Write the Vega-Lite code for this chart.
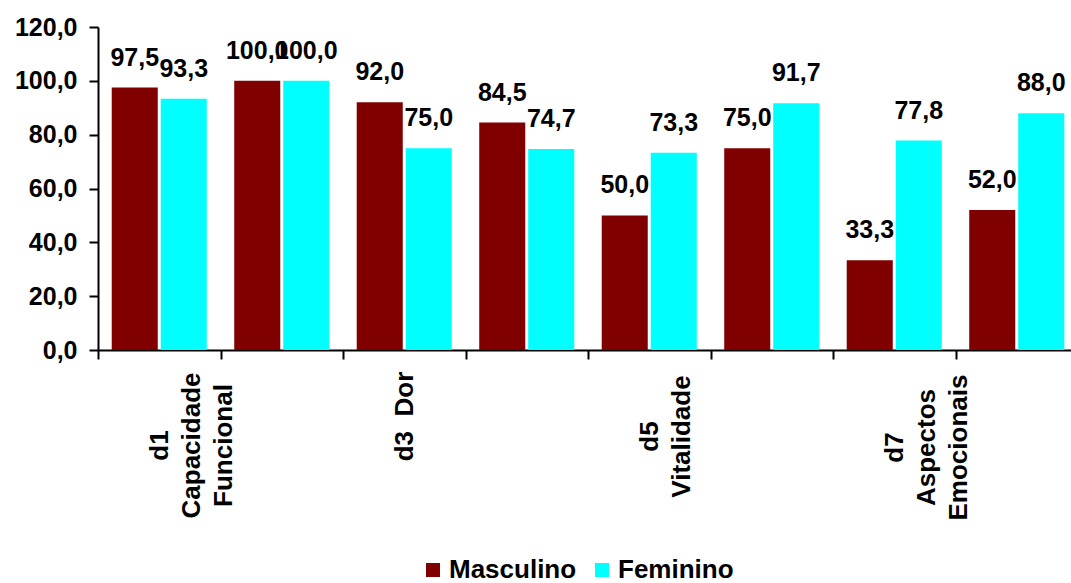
{
  "$schema": "https://vega.github.io/schema/vega-lite/v6.json",
  "autosize": "none",
  "width": 973,
  "height": 323,
  "padding": {"left": 98, "top": 27, "right": 0, "bottom": 233},
  "config": {
    "font": "Liberation Sans",
    "view": {"stroke": null},
    "locale": {"number": {"decimal": ",", "thousands": ".", "grouping": [3], "currency": ["", ""]}}
  },
  "data": {
    "values": [
      {"dominio": "d1 Capacidade Funcional", "sexo": "Masculino", "valor": 97.5},
      {"dominio": "d1 Capacidade Funcional", "sexo": "Feminino", "valor": 93.3},
      {"dominio": "d2 Aspectos Físicos", "sexo": "Masculino", "valor": 100.0},
      {"dominio": "d2 Aspectos Físicos", "sexo": "Feminino", "valor": 100.0},
      {"dominio": "d3 Dor", "sexo": "Masculino", "valor": 92.0},
      {"dominio": "d3 Dor", "sexo": "Feminino", "valor": 75.0},
      {"dominio": "d4 Estado Geral de Saúde", "sexo": "Masculino", "valor": 84.5},
      {"dominio": "d4 Estado Geral de Saúde", "sexo": "Feminino", "valor": 74.7},
      {"dominio": "d5 Vitalidade", "sexo": "Masculino", "valor": 50.0},
      {"dominio": "d5 Vitalidade", "sexo": "Feminino", "valor": 73.3},
      {"dominio": "d6 Aspectos Sociais", "sexo": "Masculino", "valor": 75.0},
      {"dominio": "d6 Aspectos Sociais", "sexo": "Feminino", "valor": 91.7},
      {"dominio": "d7 Aspectos Emocionais", "sexo": "Masculino", "valor": 33.3},
      {"dominio": "d7 Aspectos Emocionais", "sexo": "Feminino", "valor": 77.8},
      {"dominio": "d8 Saúde Mental", "sexo": "Masculino", "valor": 52.0},
      {"dominio": "d8 Saúde Mental", "sexo": "Feminino", "valor": 88.0}
    ]
  },
  "encoding": {
    "x": {
      "field": "dominio",
      "type": "nominal",
      "sort": null,
      "scale": {"range": [0, 980], "paddingInner": 0, "paddingOuter": 0},
      "axis": {
        "title": null,
        "domainColor": "black",
        "domainWidth": 2,
        "tickColor": "black",
        "tickWidth": 2,
        "tickSize": 9,
        "tickBand": "extent",
        "labelAngle": -90,
        "labelAlign": "center",
        "labelBaseline": "middle",
        "labelFontSize": 26,
        "labelFontWeight": "bold",
        "labelColor": "black",
        "labelLineHeight": 32,
        "labelLimit": 400,
        "labelOverlap": false,
        "labelPadding": {
          "condition": [
            {"test": "datum.value === 'd3 Dor'", "value": 57},
            {"test": "datum.value === 'd5 Vitalidade'", "value": 77},
            {"test": "datum.value === 'd7 Aspectos Emocionais'", "value": 88}
          ],
          "value": 86
        },
        "labelExpr": "datum.value === 'd1 Capacidade Funcional' ? ['d1', 'Capacidade', 'Funcional'] : datum.value === 'd3 Dor' ? 'd3 \u00a0Dor' : datum.value === 'd5 Vitalidade' ? ['d5', 'Vitalidade'] : datum.value === 'd7 Aspectos Emocionais' ? ['d7', 'Aspectos', 'Emocionais'] : ''",
        "encode": {"ticks": {"update": {"y": {"value": -9}}}}
      }
    },
    "xOffset": {
      "field": "sexo",
      "type": "nominal",
      "sort": ["Masculino", "Feminino"],
      "scale": {"paddingInner": 0.061, "paddingOuter": 0.28}
    },
    "y": {
      "field": "valor",
      "type": "quantitative",
      "scale": {"domain": [0, 120], "nice": false},
      "axis": {
        "title": null,
        "values": [0, 20, 40, 60, 80, 100, 120],
        "format": ".1f",
        "grid": false,
        "domainColor": "black",
        "domainWidth": 2,
        "tickColor": "black",
        "tickWidth": 2,
        "tickSize": 9,
        "labelPadding": 12,
        "labelFontSize": 25,
        "labelFontWeight": "bold",
        "labelColor": "black",
        "encode": {"ticks": {"update": {"x": {"value": 9}}}}
      }
    }
  },
  "layer": [
    {
      "mark": {"type": "bar"},
      "encoding": {
        "color": {
          "field": "sexo",
          "type": "nominal",
          "sort": ["Masculino", "Feminino"],
          "scale": {"domain": ["Masculino", "Feminino"], "range": ["#800000", "#00FFFF"]},
          "legend": {
            "title": null,
            "orient": "none",
            "legendX": 322,
            "legendY": 530,
            "direction": "horizontal",
            "symbolType": "square",
            "symbolSize": 196,
            "symbolStrokeWidth": 0,
            "labelFontSize": 26,
            "labelFontWeight": "bold",
            "labelColor": "black",
            "labelOffset": 3,
            "columnPadding": 12
          }
        }
      }
    },
    {
      "mark": {"type": "text", "dy": -22, "baseline": "alphabetic", "fontSize": 25, "fontWeight": "bold", "color": "black"},
      "encoding": {
        "text": {"field": "valor", "type": "quantitative", "format": ".1f"}
      }
    }
  ]
}
